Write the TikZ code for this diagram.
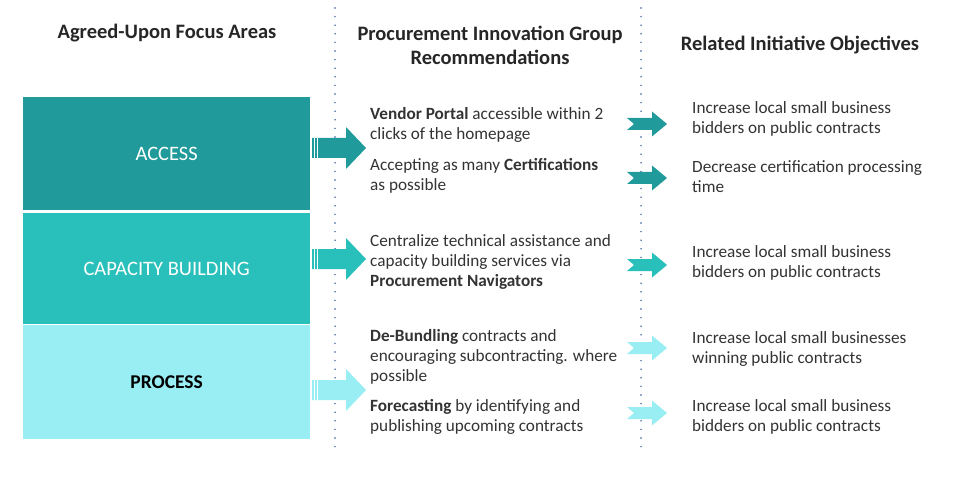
\documentclass[tikz,border=0pt]{standalone}
\usepackage{fontspec}
\setmainfont{Carlito}
\definecolor{accessteal}{HTML}{209A9A}
\definecolor{capteal}{HTML}{29BFBA}
\definecolor{proccyan}{HTML}{98EEF2}
\definecolor{dotblue}{HTML}{2F5597}
\definecolor{bodygray}{HTML}{333333}
\newcommand{\focusarrow}[2]{%
	\fill [#2] (312, #1-10) -- (346, #1-10) -- (346, #1-21) -- (366, #1)
		-- (346, #1+21) -- (346, #1+10) -- (312, #1+10) -- cycle;
	\draw [white, line width=0.6] (314.5, #1-10) -- (314.5, #1+10);
	\draw [white, line width=0.6] (317, #1-10) -- (317, #1+10);}
\newcommand{\goalarrow}[2]{%
	\fill [#2] (627, #1-6) -- (652, #1-6) -- (652, #1-12.5) -- (667, #1)
		-- (652, #1+12.5) -- (652, #1+6) -- (627, #1+6) -- (634, #1) -- cycle;}

\begin{document}
\begin{tikzpicture}[x=1pt, y=-1pt,
	head/.style={font=\fontsize{20.5}{24}\selectfont\bfseries, text=black!85, align=center},
	mid/.style={font=\fontsize{17.2}{20}\selectfont, text=bodygray, align=left, anchor=north west, inner sep=0},
	area/.style={minimum width=287, minimum height=#1, anchor=north west, inner sep=0,
		font=\fontsize{20.5}{24}\selectfont}]
	\useasboundingbox (0, 0) rectangle (963, 481);
	% column rules
	\draw [dotblue, line width=1.6, line cap=round, dash pattern=on 0pt off 8.6pt] (335, 8) -- (335, 448);
	\draw [dotblue, line width=1.6, line cap=round, dash pattern=on 0pt off 8.6pt] (641, 8) -- (641, 448);
	% headings
	\node [head] (h1) at (167, 33) {Agreed-Upon Focus Areas};
	\node [head] (h2) at (490, 45) {Procurement Innovation Group\\Recommendations};
	\node [head] (h3) at (800, 45) {Related Initiative Objectives};
	% focus areas
	\node [area=113, fill=accessteal, text=white] (access) at (23, 97) {ACCESS};
	\node [area=111, fill=capteal, text=white] (capacity) at (23, 213) {CAPACITY BUILDING};
	\node [area=114, fill=proccyan, text=black, font=\fontsize{19.5}{24}\selectfont\bfseries] (process) at (23, 325) {PROCESS};
	\focusarrow{148}{accessteal}
	\focusarrow{259}{capteal}
	\focusarrow{390}{proccyan}
	% recommendations
	\node [mid] (portal) at (370, 107.5) {\textbf{Vendor Portal} accessible within 2\\clicks of the homepage};
	\node [mid] (certs) at (370, 158.5) {Accepting as many \textbf{Certifications}\\as possible};
	\node [mid] (navig) at (370, 234.5) {Centralize technical assistance and\\capacity building services via\\\textbf{Procurement Navigators}};
	\node [mid] (debund) at (370, 329.5) {\textbf{De-Bundling} contracts and\\encouraging subcontracting. where\\possible};
	\node [mid] (forecast) at (370, 399.5) {\textbf{Forecasting} by identifying and\\publishing upcoming contracts};
	% objectives
	\goalarrow{124}{accessteal}
	\goalarrow{178}{accessteal}
	\goalarrow{265}{capteal}
	\goalarrow{348}{proccyan}
	\goalarrow{413}{proccyan}
	\node [mid] (obj1) at (692, 101.5) {Increase local small business\\bidders on public contracts};
	\node [mid] (obj2) at (692, 160.5) {Decrease certification processing\\time};
	\node [mid] (obj3) at (692, 245.5) {Increase local small business\\bidders on public contracts};
	\node [mid] (obj4) at (692, 331.5) {Increase local small businesses\\winning public contracts};
	\node [mid] (obj5) at (692, 399.5) {Increase local small business\\bidders on public contracts};
\end{tikzpicture}
\end{document}
